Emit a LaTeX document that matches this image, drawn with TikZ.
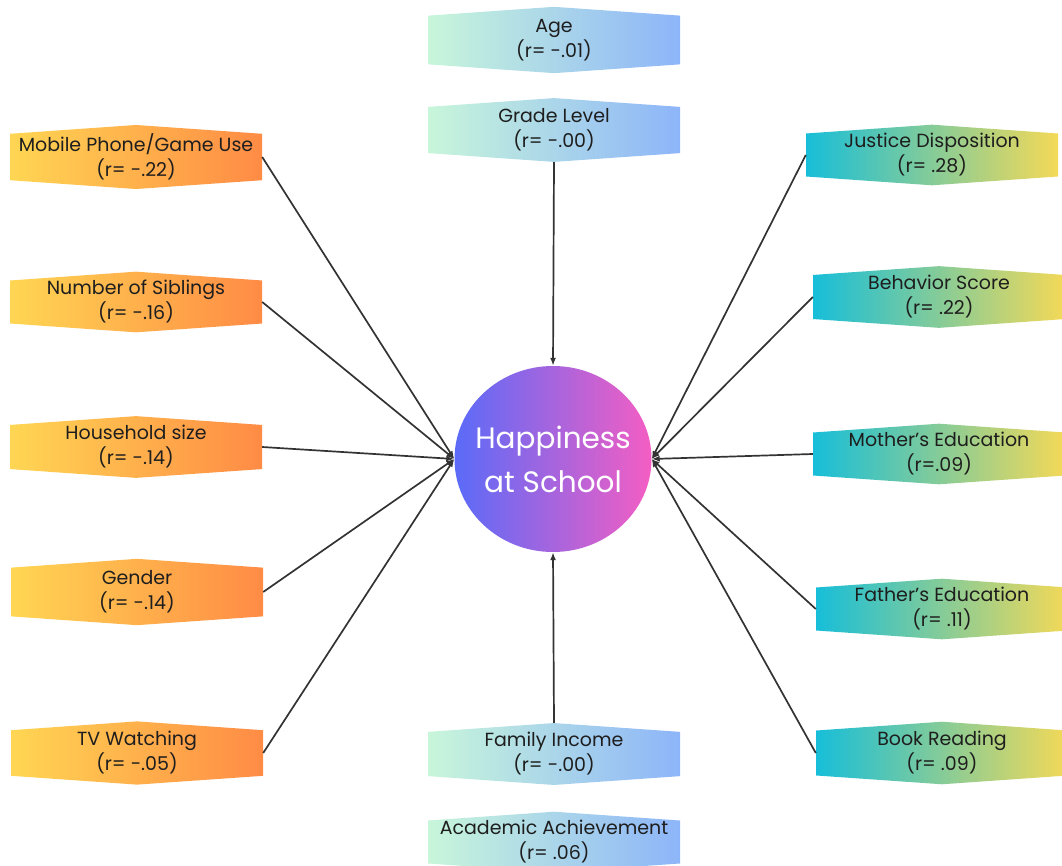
\documentclass[tikz,border=0pt]{standalone}
\usepackage{fontspec}
\setmainfont{Poppins}
\usetikzlibrary{shapes.symbols, shapes.geometric, arrows.meta}
\definecolor{negl}{HTML}{FFD653}
\definecolor{negr}{HTML}{FF8B45}
\definecolor{posl}{HTML}{17BED9}
\definecolor{posr}{HTML}{F4D957}
\definecolor{midl}{HTML}{C8F6DA}
\definecolor{midr}{HTML}{8DB5F9}
\definecolor{happyl}{HTML}{5A6BF8}
\definecolor{happyr}{HTML}{F45EC3}
\definecolor{textgrey}{HTML}{1E1E1E}
\definecolor{linegrey}{HTML}{333333}

\begin{document}
\begin{tikzpicture}[x=1pt, y=-1pt,
        every node/.style = {shape=signal, signal to=north and south,
            signal pointer angle=172, minimum width=252pt, minimum height=54pt,
            inner sep=0pt, align=center, text=textgrey,
            font=\fontsize{19}{25}\selectfont},
        negbox/.style = {left color=negl, right color=negr},
        posbox/.style = {left color=posl, right color=posr},
        midbox/.style = {left color=midl, right color=midr},
        link/.style = {line width=1.7pt, draw=linegrey, -{Latex[length=8pt,width=6pt]}}]
        \useasboundingbox (0,0) rectangle (1062,866);

        % centre
        \node [shape=ellipse, minimum width=197pt, minimum height=186pt,
            inner xsep=-20pt, left color=happyl, right color=happyr, text=white,
            font=\fontsize{29.5}{44}\selectfont] (happy) at (553,459) {Happiness\\at School};

        % top and bottom
        \node [midbox] (age) at (554,40) {Age\\(r= -.01)};
        \node [midbox] (grade) at (554,130) {Grade Level\\(r= -.00)};
        \node [midbox] (income) at (554,754) {Family Income\\(r= -.00)};
        \node [midbox] (academic) at (554,842) {Academic Achievement\\(r= .06)};

        % left side
        \node [negbox] (mobile) at (136,157) {Mobile Phone/Game Use\\(r= -.22)};
        \node [negbox] (siblings) at (136,302) {Number of Siblings\\(r= -.16)};
        \node [negbox] (household) at (136,447) {Household size\\(r= -.14)};
        \node [negbox] (gender) at (137,592) {Gender\\(r= -.14)};
        \node [negbox] (tv) at (137,753) {TV Watching\\(r= -.05)};

        % right side
        \node [posbox] (justice) at (932,155) {Justice Disposition\\(r= .28)};
        \node [posbox] (behavior) at (939,297) {Behavior Score\\(r= .22)};
        \node [posbox] (mother) at (939,454) {Mother’s Education\\(r=.09)};
        \node [posbox] (father) at (942,609) {Father’s Education\\(r= .11)};
        \node [posbox] (book) at (942,753) {Book Reading\\(r= .09)};

        \draw [link] (grade.south) -- (happy.north);
        \draw [link] (income.north) -- (happy.south);
        \foreach \n in {mobile, siblings, household, gender, tv}
            \draw [link] (\n.east) -- (happy.west);
        \foreach \n in {justice, behavior, mother, father, book}
            \draw [link] (\n.west) -- (happy.east);
\end{tikzpicture}
\end{document}
